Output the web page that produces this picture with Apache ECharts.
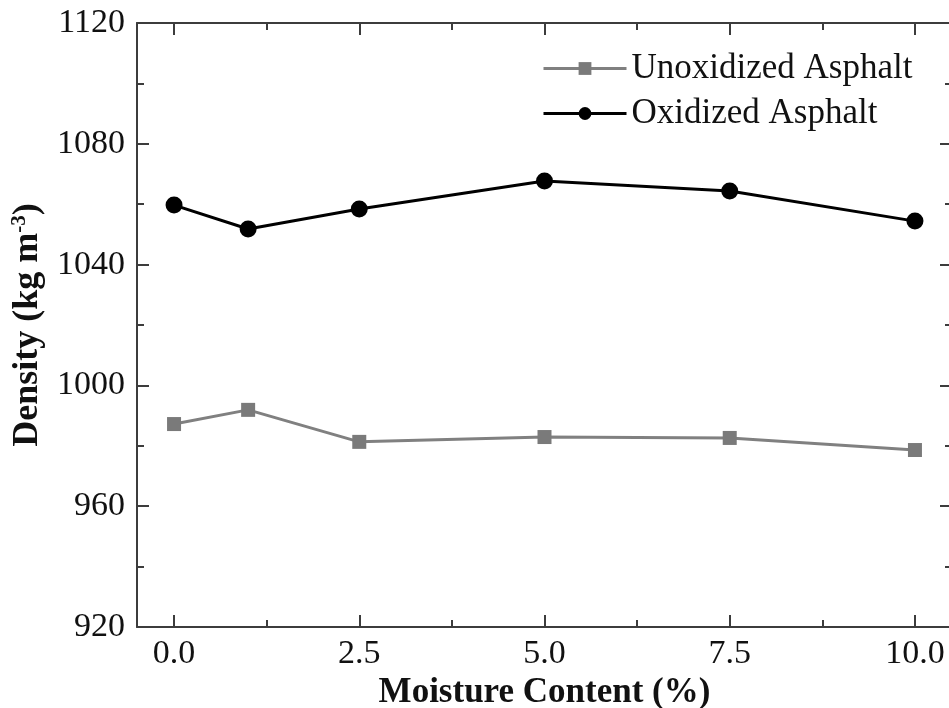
<!DOCTYPE html>
<html>
<head>
<meta charset="utf-8">
<script src="https://cdn.jsdelivr.net/npm/echarts@6/dist/echarts.min.js"></script>
<style>
  html, body { margin: 0; padding: 0; background: #fff; }
  #chart { width: 949px; height: 708px; }
</style>
</head>
<body>
<div id="chart"></div>
<script>
window.onload = init;

// donnees
const moisture = [0, 1, 2.5, 5, 7.5, 10];
const unoxidized = [987.2, 991.9, 981.3, 982.9, 982.6, 978.6];
const oxidized = [1059.7, 1051.8, 1058.4, 1067.7, 1064.4, 1054.4];
const xMajor = [0, 2.5, 5, 7.5, 10];
const xMinor = [1.25, 3.75, 6.25, 8.75];

function init() {
    let chart = echarts.init(document.getElementById('chart'));

    const font = 'Liberation Serif';
    const axisCol = '#3c3c3c';

    // axe x : graduations placees a la main (le min -0.5 n'est pas un multiple de 2.5)
    function xAxisDef(pos, ticks, len, showLine, showLabel) {
        return {
            type: 'value',
            position: pos,
            min: -0.5,
            max: 10.5,
            axisLine: { show: showLine, onZero: false, lineStyle: { color: axisCol, width: 2 } },
            axisTick: { show: true, inside: true, length: len, customValues: ticks, lineStyle: { color: axisCol, width: 2 } },
            axisLabel: showLabel ? {
                fontFamily: font, fontSize: 34, color: '#111', margin: 10,
                customValues: xMajor,
                formatter: v => v.toFixed(1)
            } : { show: false },
            splitLine: { show: false }
        };
    }

    let yCommon = {
        type: 'value',
        min: 920,
        max: 1120,
        interval: 40,
        axisLine: { show: true, onZero: false, lineStyle: { color: axisCol, width: 2 } },
        axisTick: { show: true, inside: true, length: 12, lineStyle: { color: axisCol, width: 2 } },
        minorTick: { show: true, splitNumber: 2, length: 7, lineStyle: { color: axisCol, width: 2 } },
        splitLine: { show: false }
    };

    let xBottom = xAxisDef('bottom', xMajor, 12, true, true);
    xBottom.name = 'Moisture Content (%)';
    xBottom.nameLocation = 'middle';
    xBottom.nameGap = 48;
    xBottom.nameTextStyle = { fontFamily: font, fontSize: 35, fontWeight: 'bold', color: '#111' };

    let options = {
        animation: false,
        backgroundColor: '#fff',
        grid: { left: 137, right: -3, top: 23, bottom: 81, containLabel: false, outerBoundsMode: 'none' },
        legend: {
            left: 537,
            top: 46,
            orient: 'vertical',
            itemWidth: 83,
            itemHeight: 16,
            itemGap: 10,
            lineStyle: { width: 3 },
            textStyle: { fontFamily: font, fontSize: 35, color: '#111' },
            data: ['Unoxidized Asphalt', 'Oxidized Asphalt']
        },
        xAxis: [
            xBottom,
            xAxisDef('top', xMajor, 12, true, false),
            xAxisDef('bottom', xMinor, 7, false, false),
            xAxisDef('top', xMinor, 7, false, false)
        ],
        yAxis: [
            Object.assign({}, yCommon, {
                position: 'left',
                name: '{a|Density (kg m}{s|-3}{a|)}',
                nameLocation: 'middle',
                nameGap: 78,
                nameTextStyle: {
                    rich: {
                        a: { fontFamily: font, fontSize: 36, fontWeight: 'bold', color: '#111' },
                        s: { fontFamily: font, fontSize: 21, fontWeight: 'bold', color: '#111', verticalAlign: 'top', padding: [0, 0, 17, 0] }
                    }
                },
                axisLabel: { fontFamily: font, fontSize: 34, color: '#111', margin: 12, formatter: v => String(v) }
            }),
            // le bord droit est coupe dans l'image d'origine : seules les graduations restent
            Object.assign({}, yCommon, {
                position: 'right',
                axisLine: { show: false, onZero: false },
                axisLabel: { show: false }
            })
        ],
        series: [
            {
                name: 'Unoxidized Asphalt',
                type: 'line',
                data: moisture.map((m, i) => [m, unoxidized[i]]),
                symbol: 'rect',
                symbolSize: 14,
                itemStyle: { color: '#7a7a7a' },
                lineStyle: { color: '#808080', width: 3 }
            },
            {
                name: 'Oxidized Asphalt',
                type: 'line',
                data: moisture.map((m, i) => [m, oxidized[i]]),
                symbol: 'circle',
                symbolSize: 17,
                itemStyle: { color: '#000' },
                lineStyle: { color: '#000', width: 3 }
            }
        ]
    };

    chart.setOption(options);
}
</script>
</body>
</html>
